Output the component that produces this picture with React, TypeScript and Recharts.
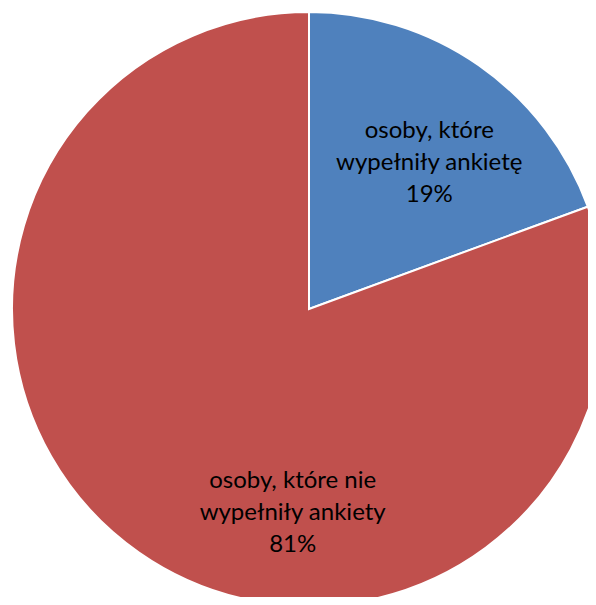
import { PieChart, Pie, Cell } from 'recharts'

const names = ['osoby, które wypełniły ankietę', 'osoby, które nie wypełniły ankiety']
const labelLines = [
  ['osoby, które', 'wypełniły ankietę'],
  ['osoby, które nie', 'wypełniły ankiety'],
]
const shares = [19.4, 80.6]
const colors = ['#4F81BD', '#C0504D']

// where Excel put each label, as fractions of the radius from the centre
const labelSpots = [
  { x: 0.405, y: -0.5 },
  { x: -0.055, y: 0.68 },
]

const data = names.map((name, i) => ({ name, value: shares[i] }))

const renderLabel = (props: any) => {
  const { cx, cy, outerRadius, index, percent } = props
  const spot = labelSpots[index]
  const x = cx + spot.x * outerRadius
  const y = cy + spot.y * outerRadius
  const lines = [...labelLines[index], `${Math.round(percent * 100)}%`]
  const lh = 32
  return (
    <text
      x={x}
      y={y}
      textAnchor="middle"
      fill="#000"
      fontSize={24}
      fontFamily="Lato, 'Open Sans', sans-serif"
    >
      {lines.map((l, i) => (
        <tspan key={i} x={x} y={y + (i - 1) * lh} dominantBaseline="central">
          {l}
        </tspan>
      ))}
    </text>
  )
}

export default function App() {
  return (
    <div style={{ margin: -8, width: 596, height: 605, background: '#fff' }}>
      <PieChart width={596} height={605} margin={{ top: 0, right: 0, bottom: 0, left: 0 }}>
        <Pie
          data={data}
          dataKey="value"
          nameKey="name"
          cx={309}
          cy={309}
          outerRadius={297}
          startAngle={90}
          endAngle={-270}
          stroke="#fff"
          strokeWidth={2}
          label={renderLabel}
          labelLine={false}
          isAnimationActive={false}
        >
          {data.map((d, i) => (
            <Cell key={d.name} fill={colors[i]} />
          ))}
        </Pie>
      </PieChart>
    </div>
  )
}
